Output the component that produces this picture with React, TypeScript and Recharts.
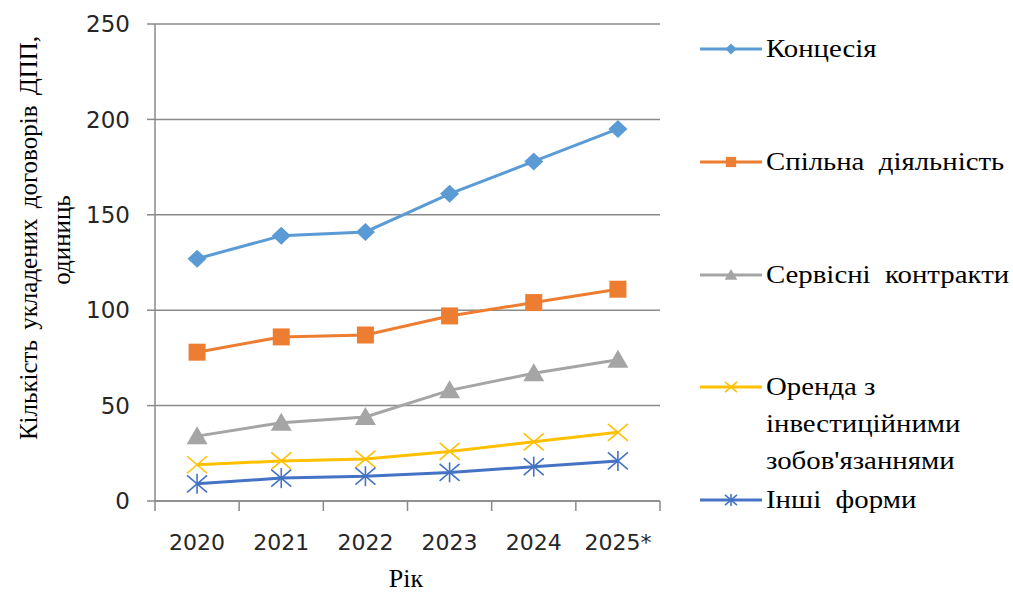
import { LineChart, Line, XAxis, YAxis, CartesianGrid, Legend } from 'recharts';

// years on the x axis
const years = ['2020', '2021', '2022', '2023', '2024', '2025*'];

// number of concluded PPP agreements, units
const concession = [127, 139, 141, 161, 178, 195];
const jointActivity = [78, 86, 87, 97, 104, 111];
const serviceContracts = [34, 41, 44, 58, 67, 74];
const leaseWithInvestment = [19, 21, 22, 26, 31, 36];
const otherForms = [9, 12, 13, 15, 18, 21];

const yTicks = [0, 50, 100, 150, 200, 250];

const series = [
  { key: 'concession', lines: ['Концесія'], color: '#5B9BD5', marker: 'diamond', values: concession },
  { key: 'jointActivity', lines: ['Спільна  діяльність'], color: '#ED7D31', marker: 'square', values: jointActivity },
  { key: 'serviceContracts', lines: ['Сервісні  контракти'], color: '#A5A5A5', marker: 'triangle', values: serviceContracts },
  {
    key: 'leaseWithInvestment',
    lines: ['Оренда з', 'інвестиційними', "зобов'язаннями"],
    color: '#FFC000',
    marker: 'x',
    values: leaseWithInvestment,
  },
  { key: 'otherForms', lines: ['Інші  форми'], color: '#4472C4', marker: 'star', values: otherForms },
];

const data = years.map((year, i) => {
  const row: Record<string, string | number> = { year };
  series.forEach((s) => {
    row[s.key] = s.values[i];
  });
  return row;
});

const WIDTH = 1013;
const HEIGHT = 592;
const MARGIN = { top: 24, right: 353, bottom: 0, left: 0 };
const PLOT_WIDTH = WIDTH - 155 - MARGIN.right;
const AXIS_COLOR = '#8a8a8a';
const TICK_COLOR = '#262626';
const SERIF = 'Liberation Serif, DejaVu Serif, serif';
const SANS = 'DejaVu Sans, sans-serif';

function Marker({ type, cx, cy, color, s = 1 }: { type: string; cx: number; cy: number; color: string; s?: number }) {
  if (type === 'diamond') {
    return (
      <polygon
        points={`${cx},${cy - 9 * s} ${cx + 9.5 * s},${cy} ${cx},${cy + 9 * s} ${cx - 9.5 * s},${cy}`}
        fill={color}
      />
    );
  }
  if (type === 'square') {
    return <rect x={cx - 8.5 * s} y={cy - 8.5 * s} width={17 * s} height={17 * s} fill={color} />;
  }
  if (type === 'triangle') {
    return (
      <polygon
        points={`${cx},${cy - 10 * s} ${cx + 10.5 * s},${cy + 8 * s} ${cx - 10.5 * s},${cy + 8 * s}`}
        fill={color}
      />
    );
  }
  const r = 10 * s;
  const h = 8.5 * s;
  return (
    <g stroke={color} strokeWidth={1.6} fill="none">
      <line x1={cx - r} y1={cy - h} x2={cx + r} y2={cy + h} />
      <line x1={cx - r} y1={cy + h} x2={cx + r} y2={cy - h} />
      {type === 'star' && <line x1={cx} y1={cy - r} x2={cx} y2={cy + r} />}
    </g>
  );
}

function YearTick(props: any) {
  const { x, y, payload, index, visibleTicksCount } = props;
  const half = PLOT_WIDTH / visibleTicksCount / 2;
  return (
    <g>
      <line x1={x - half} y1={y} x2={x - half} y2={y + 10} stroke={AXIS_COLOR} strokeWidth={1.5} />
      {index === visibleTicksCount - 1 && (
        <line x1={x + half} y1={y} x2={x + half} y2={y + 10} stroke={AXIS_COLOR} strokeWidth={1.5} />
      )}
      <text x={x} y={y + 49} textAnchor="middle" fontFamily={SANS} fontSize={22} fill={TICK_COLOR}>
        {payload.value}
      </text>
    </g>
  );
}

function YTitle() {
  return (
    <g style={{ fontFamily: SERIF, fontSize: 25 }} fill="#000">
      <text x={37} y={238} transform="rotate(-90 37 238)" textAnchor="middle" style={{ wordSpacing: 4 }}>
        Кількість укладених договорів ДПП,
      </text>
      <text x={70} y={240} transform="rotate(-90 70 240)" textAnchor="middle">
        одиниць
      </text>
    </g>
  );
}

function XTitle() {
  return (
    <text x={406} y={587} textAnchor="middle" style={{ fontFamily: SERIF, fontSize: 26 }} fill="#000">
      Рік
    </text>
  );
}

function LegendBox() {
  return (
    <div style={{ position: 'relative', width: 320, height: 520 }}>
      {series.map((s, i) => (
        <div
          key={s.key}
          style={{ position: 'absolute', left: 0, top: i * 112.8, display: 'flex', alignItems: 'flex-start' }}
        >
          <svg width={70} height={36} style={{ flex: 'none' }}>
            <line x1={4} y1={18} x2={66} y2={18} stroke={s.color} strokeWidth={3} />
            <Marker type={s.marker} cx={35} cy={18} color={s.color} s={0.6} />
          </svg>
          <div
            style={{
              fontFamily: SERIF,
              fontSize: 25.5,
              lineHeight: '37px',
              color: '#000',
              whiteSpace: 'pre',
              marginTop: -1,
              transform: 'scaleX(1.13)',
              transformOrigin: 'left center',
            }}
          >
            {s.lines.map((t) => (
              <div key={t}>{t}</div>
            ))}
          </div>
        </div>
      ))}
    </div>
  );
}

export default function App() {
  return (
    <div style={{ position: 'absolute', left: 0, top: 0, width: WIDTH, height: HEIGHT, background: '#fff' }}>
      <LineChart width={WIDTH} height={HEIGHT} data={data} margin={MARGIN}>
        <CartesianGrid vertical={false} stroke={AXIS_COLOR} strokeWidth={1.5} />
        <XAxis
          dataKey="year"
          scale="band"
          height={91}
          axisLine={{ stroke: AXIS_COLOR, strokeWidth: 1.5 }}
          tickLine={false}
          tickSize={0}
          tickMargin={0}
          interval={0}
          tick={<YearTick />}
          label={{ content: () => <XTitle /> }}
        />
        <YAxis
          domain={[0, 250]}
          ticks={yTicks}
          width={155}
          axisLine={{ stroke: AXIS_COLOR, strokeWidth: 1.5 }}
          tickLine={{ stroke: AXIS_COLOR, strokeWidth: 1.5 }}
          tickSize={8}
          tickMargin={17}
          tick={{ fontFamily: SANS, fontSize: 23, fill: TICK_COLOR }}
          label={{ content: () => <YTitle /> }}
        />
        <Legend
          layout="horizontal"
          verticalAlign="middle"
          align="center"
          content={() => <LegendBox />}
          wrapperStyle={{ left: 696, top: 31, width: 320, height: 520 }}
        />
        {series.map((s) => (
          <Line
            key={s.key}
            dataKey={s.key}
            stroke={s.color}
            strokeWidth={3}
            isAnimationActive={false}
            dot={(p: any) => <Marker key={`${s.key}-${p.index}`} type={s.marker} cx={p.cx} cy={p.cy} color={s.color} />}
            activeDot={false}
          />
        ))}
      </LineChart>
    </div>
  );
}
